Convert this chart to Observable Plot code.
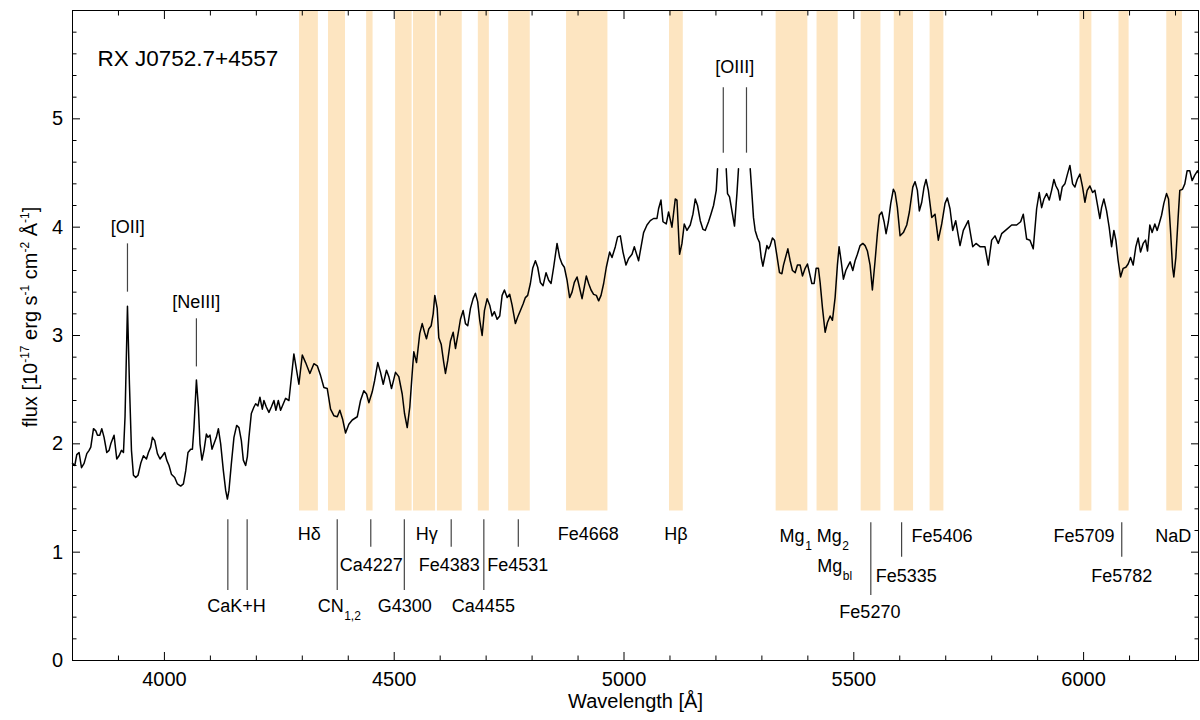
<!DOCTYPE html>
<html>
<head>
<meta charset="utf-8">
<script src="https://cdn.jsdelivr.net/npm/d3@7"></script>
<script src="https://cdn.jsdelivr.net/npm/@observablehq/plot@0.6"></script>
<style>
  html, body { margin: 0; padding: 0; background: #fff; overflow: hidden; }
</style>
</head>
<body>
<div id="chart"></div>
<script>
// ---- Spectrum: observed wavelength [Å], flux [1e-17 erg/s/cm²/Å]; null = off-scale ([OIII] peaks)
const spectrum = [
[3800.0,1.82],[3805.0,1.80],[3809.3,1.90],[3814.3,1.92],[3819.6,1.78],[3825.2,1.82],[3831.1,1.91],[3836.1,1.94],[3839.8,1.97],[3845.7,2.14],
[3850.7,2.12],[3854.3,2.08],[3859.3,2.08],[3863.7,2.14],[3868.7,2.06],[3874.6,1.92],[3879.6,1.94],[3883.3,2.00],[3890.4,2.08],[3896.3,1.86],
[3901.3,1.89],[3906.5,1.94],[3910.9,1.92],[3914.3,2.25],[3919.6,3.27],[3923.9,2.55],[3928.3,1.94],[3932.6,1.71],[3937.6,1.69],[3942.6,1.71],
[3948.5,1.82],[3954.3,1.89],[3960.9,1.86],[3965.2,1.92],[3970.2,1.97],[3973.9,2.06],[3978.9,2.03],[3984.8,1.91],[3990.4,1.86],[3995.7,1.89],
[4000.7,1.92],[4005.0,1.85],[4010.0,1.80],[4015.2,1.72],[4022.4,1.69],[4028.3,1.63],[4035.4,1.61],[4041.3,1.63],[4046.3,1.75],[4051.3,1.92],
[4057.2,1.95],[4060.9,1.95],[4064.3,2.15],[4069.6,2.59],[4073.9,2.34],[4077.4,2.00],[4081.7,1.85],[4086.1,1.94],[4091.3,2.09],[4094.8,2.06],
[4099.1,2.08],[4103.5,1.95],[4107.8,2.00],[4113.0,2.06],[4117.4,2.14],[4122.4,2.00],[4128.3,1.75],[4133.3,1.57],[4137.0,1.49],[4140.4,1.57],
[4145.7,1.82],[4151.3,2.06],[4157.2,2.17],[4162.2,2.15],[4167.4,2.03],[4171.7,1.85],[4176.7,1.80],[4180.4,1.88],[4183.9,2.06],[4189.1,2.28],
[4194.8,2.34],[4198.5,2.37],[4203.5,2.35],[4207.8,2.43],[4213.0,2.32],[4216.5,2.40],[4221.7,2.34],[4227.4,2.29],[4232.6,2.34],[4238.3,2.40],
[4242.6,2.31],[4247.8,2.40],[4252.8,2.31],[4263.7,2.42],[4270.9,2.40],[4281.7,2.83],[4292.6,2.55],[4300.0,2.82],[4307.2,2.75],[4316.5,2.65],
[4325.2,2.74],[4332.6,2.72],[4339.8,2.63],[4347.0,2.52],[4354.3,2.51],[4361.5,2.32],[4368.7,2.26],[4376.1,2.25],[4381.7,2.31],[4387.6,2.23],
[4394.1,2.10],[4401.3,2.18],[4408.7,2.22],[4419.6,2.25],[4426.7,2.40],[4433.9,2.49],[4439.8,2.46],[4444.8,2.38],[4452.2,2.48],[4457.2,2.58],
[4464.3,2.75],[4470.2,2.66],[4476.1,2.55],[4483.2,2.68],[4488.3,2.62],[4494.1,2.51],[4502.8,2.66],[4510.0,2.62],[4517.4,2.46],[4522.4,2.28],
[4528.3,2.15],[4533.9,2.34],[4539.1,2.65],[4542.6,2.85],[4548.5,2.75],[4555.6,3.02],[4560.9,3.11],[4565.9,3.03],[4570.2,2.97],[4575.2,3.06],
[4580.4,3.09],[4584.8,3.20],[4588.3,3.37],[4593.5,3.25],[4597.0,2.98],[4602.2,2.92],[4607.8,2.75],[4611.5,2.65],[4616.5,2.77],[4622.4,2.95],
[4628.3,3.03],[4633.3,2.88],[4639.1,3.02],[4644.1,3.15],[4650.0,3.23],[4655.0,3.11],[4660.0,3.09],[4665.9,3.25],[4671.7,3.34],[4676.7,3.39],
[4681.7,3.31],[4686.1,3.14],[4691.3,3.00],[4696.3,3.23],[4702.2,3.34],[4707.8,3.28],[4713.0,3.18],[4718.0,3.22],[4723.9,3.15],[4729.6,3.18],
[4734.8,3.37],[4739.8,3.42],[4745.7,3.35],[4751.3,3.38],[4756.5,3.28],[4763.7,3.11],[4768.7,3.17],[4774.6,3.23],[4780.4,3.29],[4785.4,3.35],
[4790.4,3.37],[4796.3,3.48],[4801.3,3.62],[4807.2,3.69],[4812.2,3.63],[4818.0,3.49],[4823.9,3.46],[4830.4,3.58],[4836.1,3.51],[4841.3,3.48],
[4846.9,3.63],[4854.3,3.85],[4860.0,3.72],[4865.2,3.66],[4870.2,3.63],[4876.1,3.51],[4881.7,3.35],[4886.9,3.40],[4891.9,3.49],[4897.8,3.54],
[4902.8,3.45],[4908.7,3.34],[4913.7,3.45],[4918.0,3.55],[4923.0,3.48],[4928.3,3.42],[4933.9,3.38],[4939.8,3.37],[4944.8,3.32],[4950.0,3.37],
[4955.7,3.48],[4961.5,3.63],[4968.7,3.77],[4973.9,3.72],[4981.1,3.82],[4986.1,3.91],[4992.0,3.92],[4997.8,3.77],[5004.3,3.65],[5010.0,3.71],
[5017.4,3.75],[5022.4,3.82],[5031.7,3.69],[5042.6,3.95],[5050.0,4.02],[5057.2,4.06],[5064.3,4.08],[5071.7,4.08],[5075.2,4.17],[5080.4,4.25],
[5084.8,4.05],[5091.9,4.03],[5097.0,4.14],[5104.3,4.00],[5111.5,4.26],[5115.2,4.25],[5120.9,3.75],[5126.1,3.85],[5131.1,4.03],[5137.0,3.97],
[5144.1,4.02],[5150.0,4.12],[5155.0,4.26],[5160.0,4.20],[5165.9,4.06],[5171.7,3.98],[5176.7,3.97],[5183.9,4.05],[5189.1,4.12],[5194.8,4.20],
[5200.7,4.34],[5203.5,4.54],[5212.0,null],[5222.4,4.54],[5225.2,4.31],[5229.6,4.28],[5234.8,4.15],[5240.4,4.01],[5245.7,4.31],[5249.1,4.54],
[5262.0,null],[5274.6,4.54],[5278.3,4.31],[5281.7,4.09],[5285.4,3.97],[5290.4,3.90],[5294.8,3.86],[5298.5,3.72],[5302.2,3.64],[5307.2,3.75],
[5310.9,3.83],[5314.3,3.80],[5318.0,3.83],[5323.0,3.90],[5327.4,3.88],[5332.6,3.74],[5338.3,3.58],[5343.5,3.57],[5347.0,3.65],[5356.5,3.80],
[5361.5,3.69],[5366.5,3.60],[5372.4,3.58],[5377.4,3.65],[5383.3,3.65],[5388.3,3.55],[5394.1,3.62],[5399.1,3.66],[5405.0,3.55],[5408.7,3.48],
[5413.7,3.48],[5418.0,3.62],[5423.0,3.62],[5426.7,3.49],[5431.7,3.26],[5437.6,3.03],[5442.6,3.12],[5448.5,3.18],[5453.5,3.14],[5459.3,3.35],
[5464.3,3.65],[5468.0,3.82],[5472.4,3.69],[5477.4,3.52],[5482.6,3.60],[5488.3,3.65],[5492.0,3.68],[5497.8,3.60],[5502.8,3.69],[5507.8,3.75],
[5513.7,3.83],[5519.6,3.85],[5524.6,3.83],[5529.6,3.78],[5535.4,3.65],[5540.4,3.42],[5546.3,3.69],[5551.3,3.94],[5555.6,4.11],[5560.9,4.14],
[5565.9,4.05],[5570.2,3.94],[5575.2,4.05],[5580.4,4.22],[5586.1,4.35],[5589.8,4.32],[5594.8,4.18],[5600.7,3.92],[5607.8,3.95],[5615.2,4.02],
[5620.9,4.14],[5628.3,4.37],[5633.3,4.42],[5638.3,4.34],[5642.6,4.15],[5647.8,4.23],[5652.8,4.37],[5657.2,4.44],[5662.2,4.34],[5669.6,4.09],
[5676.7,4.12],[5683.9,3.88],[5691.3,4.03],[5698.5,4.22],[5703.5,4.27],[5709.3,4.17],[5715.2,3.97],[5721.7,4.06],[5731.1,3.83],[5738.3,3.97],
[5749.1,4.06],[5758.7,3.82],[5765.9,3.85],[5774.6,3.82],[5785.4,3.82],[5792.6,3.65],[5800.0,3.88],[5807.2,3.92],[5814.3,3.85],[5821.7,3.94],
[5832.6,3.98],[5843.5,4.02],[5854.3,4.02],[5863.0,4.05],[5868.7,4.12],[5876.1,3.89],[5883.3,3.88],[5890.4,3.80],[5897.8,4.17],[5903.5,4.32],
[5908.7,4.18],[5913.7,4.26],[5919.6,4.31],[5925.2,4.25],[5930.4,4.34],[5935.4,4.44],[5939.8,4.38],[5944.8,4.34],[5948.5,4.25],[5953.5,4.37],
[5959.3,4.40],[5964.3,4.48],[5970.2,4.57],[5976.1,4.40],[5981.1,4.37],[5986.1,4.44],[5992.0,4.49],[5997.8,4.37],[6002.8,4.23],[6007.8,4.34],
[6013.7,4.38],[6019.6,4.32],[6024.6,4.34],[6029.6,4.22],[6035.4,4.08],[6039.1,4.18],[6044.1,4.26],[6050.0,4.15],[6055.6,4.00],[6060.9,3.82],
[6065.9,3.97],[6070.2,3.88],[6075.2,3.69],[6080.4,3.54],[6086.1,3.62],[6091.9,3.63],[6096.9,3.66],[6102.2,3.72],[6107.8,3.65],[6113.7,3.82],
[6118.7,3.90],[6123.9,3.77],[6129.6,3.85],[6134.8,3.88],[6139.1,3.78],[6144.1,4.02],[6149.1,3.95],[6155.0,4.03],[6160.0,3.97],[6164.3,4.03],
[6169.6,4.11],[6174.6,4.22],[6180.4,4.31],[6184.8,4.26],[6189.1,3.97],[6193.5,3.63],[6196.3,3.54],[6200.7,3.72],[6205.7,4.09],[6209.3,4.34],
[6215.2,4.35],[6220.2,4.40],[6225.2,4.52],[6231.1,4.52],[6236.1,4.43],[6241.9,4.48],[6247.8,4.52],[6250.0,4.50]
];

// ---- Lick index central bandpasses in the observed frame [Å]
const bandLo = [4294, 4357, 4440, 4503, 4542, 4594, 4683, 4749, 4875, 5099, 5331, 5420, 5516, 5588, 5666, 5992, 6077, 6181];
const bandHi = [4335, 4394, 4454, 4539, 4590, 4648, 4707, 4796, 4965, 5129, 5400, 5466, 5559, 5630, 5696, 6018, 6099, 6215];

// ---- Feature marker wavelengths and their stalk style
const markerWave = [4138, 4180, 4376, 4449, 4522, 4624, 4695, 4770, 5537, 5604, 6083];
const markerKind = ["long", "long", "long", "short", "long", "short", "long", "short", "longR", "shortR", "shortR"];

// ---- Index labels (plain text) and where they sit
const indexNames = ["Hδ", "Hγ", "Fe4668", "Hβ", "Fe5406", "Fe5709", "NaD",
                    "Ca4227", "Fe4383", "Fe4531", "Fe5335", "Fe5782",
                    "CaK+H", "G4300", "Ca4455", "Fe5270"];
const indexWave  = [4315, 4571, 4922, 5113, 5692, 6001, 6195,
                    4450, 4620, 4769, 5614, 6083,
                    4157, 4523, 4694, 5535];
const indexRow   = ["r1", "r1", "r1", "r1", "r1R", "r1R", "r1R",
                    "r2", "r2", "r2", "r2R", "r2R",
                    "r3", "r3", "r3", "r3R"];

// ---- Index labels with a subscript
const subMain = ["CN", "Mg", "Mg", "Mg"];
const subText = ["1,2", "1", "2", "bl"];
const subWave = [4390, 5393, 5474, 5475];
const subRow  = ["r3", "r1R", "r1R", "r2M"];

// ---- Emission lines
const emisNames = ["[OII]", "[NeIII]", "[OIII]"];
const emisLabelWave = [3920, 4069, 5241];
const emisLineWave = [3919.6, 4069.6, 5216, 5266.5];
const emisLineOf = [0, 1, 2, 2];

// ---- Axis ticks
const xMajor = [4000, 4500, 5000, 5500, 6000];
const xMinor = [3900, 4100, 4200, 4300, 4400, 4600, 4700, 4800, 4900, 5100, 5200, 5300, 5400, 5600, 5700, 5800, 5900, 6100, 6200];
const yMajor = [0, 1, 2, 3, 4, 5];
const yMinor = [0.2, 0.4, 0.6, 0.8, 1.2, 1.4, 1.6, 1.8, 2.2, 2.4, 2.6, 2.8, 3.2, 3.4, 3.6, 3.8, 4.2, 4.4, 4.6, 4.8, 5.2, 5.4, 5.6, 5.8];

// ---- Layout (flux units on the y scale)
const BAND_FLOOR = 1.38;
const ROW_Y = {r1: 1.163, r1R: 1.145, r2: 0.877, r2M: 0.868, r2R: 0.775, r3: 0.503, r3R: 0.443};
const STALK = {long: [1.30, 0.646], short: [1.30, 1.046], longR: [1.271, 0.60], shortR: [1.271, 0.954]};
const EMIS_LABEL_Y = [4.0, 3.31, 5.477];
const EMIS_STALK = [[3.846, 3.40], [3.154, 2.71], [5.287, 4.683]];

const FONT = "'Liberation Sans', Arial, Helvetica, sans-serif";
const BAND_FILL = "#fde5c1";
const STALK_COLOR = "#444";

// ---- Tables for the marks
const bands = bandLo.map((lo, i) => ({lo, hi: bandHi[i]}));
const stalks = markerWave.map((w, i) => ({w, y1: STALK[markerKind[i]][0], y2: STALK[markerKind[i]][1]}));
const indexLabels = indexNames.map((name, i) => ({name, w: indexWave[i], y: ROW_Y[indexRow[i]]}));
const subLabels = subMain.map((main, i) => ({main, sub: subText[i], w: subWave[i], y: ROW_Y[subRow[i]]}));
const emisLabels = emisNames.map((name, i) => ({name, w: emisLabelWave[i], y: EMIS_LABEL_Y[i]}));
const emisStalks = emisLineWave.map((w, i) => ({w, y1: EMIS_STALK[emisLineOf[i]][0], y2: EMIS_STALK[emisLineOf[i]][1]}));

const noLabel = () => "";

const plot = Plot.plot({
  width: 1200,
  height: 720,
  marginTop: 10,
  marginRight: 2,
  marginBottom: 60,
  marginLeft: 72,
  x: {domain: [3800, 6250]},
  y: {domain: [0, 6]},
  style: {fontFamily: FONT, fontSize: "20px", color: "#000", background: "#fff"},
  marks: [
    Plot.rect(bands, {x1: "lo", x2: "hi", y1: BAND_FLOOR, y2: 6, fill: BAND_FILL}),
    Plot.line(spectrum, {x: d => d[0], y: d => d[1], stroke: "#000", strokeWidth: 1.5, strokeLinejoin: "round"}),

    Plot.ruleX(stalks, {x: "w", y1: "y1", y2: "y2", stroke: STALK_COLOR, strokeWidth: 1.2}),
    Plot.ruleX(emisStalks, {x: "w", y1: "y1", y2: "y2", stroke: STALK_COLOR, strokeWidth: 1.2}),

    Plot.text(indexLabels, {x: "w", y: "y", text: "name", fontSize: 18, fill: "#000"}),
    Plot.text(subLabels, {x: "w", y: "y", text: "main", textAnchor: "end", fontSize: 18, fill: "#000"}),
    Plot.text(subLabels, {x: "w", y: "y", text: "sub", textAnchor: "start", fontSize: 12, dx: 0.5, dy: 10, fill: "#000"}),
    Plot.text(emisLabels, {x: "w", y: "y", text: "name", fontSize: 18, fill: "#000"}),

    Plot.text(["RX J0752.7+4557"], {text: d => d, frameAnchor: "top-left", textAnchor: "start", lineAnchor: "bottom", dx: 25, dy: 55, fontSize: 22.5, fill: "#000"}),
    Plot.text(["Wavelength [Å]"], {text: d => d, frameAnchor: "bottom", lineAnchor: "bottom", dy: 47, fontSize: 20, fill: "#000"}),

    // inward-pointing ticks on all four sides
    Plot.axisX({anchor: "bottom", ticks: xMajor, tickSize: -8, tickPadding: 19.7, tickFormat: d => String(d), fontSize: 20, label: null}),
    Plot.axisX({anchor: "bottom", ticks: xMinor, tickSize: -4.5, tickFormat: noLabel, label: null}),
    Plot.axisX({anchor: "top", ticks: xMajor, tickSize: -8, tickFormat: noLabel, label: null}),
    Plot.axisX({anchor: "top", ticks: xMinor, tickSize: -4.5, tickFormat: noLabel, label: null}),
    Plot.axisY({anchor: "left", ticks: yMajor, tickSize: -8, tickPadding: 17.4, tickFormat: d => String(d), fontSize: 20, label: null}),
    Plot.axisY({anchor: "left", ticks: yMinor, tickSize: -4.5, tickFormat: noLabel, label: null}),
    Plot.axisY({anchor: "right", ticks: yMajor, tickSize: -8, tickFormat: noLabel, label: null}),
    Plot.axisY({anchor: "right", ticks: yMinor, tickSize: -4.5, tickFormat: noLabel, label: null}),

    Plot.frame({stroke: "#000", strokeWidth: 1})
  ]
});

// y-axis title with superscripted exponents
const ySpec = plot.scale("y");
const yMid = (ySpec.range[0] + ySpec.range[1]) / 2 - 18;
const yTitle = d3.select(plot).append("text")
  .attr("transform", `translate(37.3,${yMid}) rotate(-90)`)
  .attr("text-anchor", "middle")
  .attr("fill", "#000")
  .style("font-family", FONT)
  .style("font-size", "20px");
const yTitleParts = [["flux [10", false], ["-17", true], [" erg s", false], ["-1", true], [" cm", false], ["-2", true], [" Å", false], ["-1", true], ["]", false]];
let raised = false;
for (const [str, sup] of yTitleParts) {
  const t = yTitle.append("tspan").text(str);
  if (sup) { t.attr("dy", raised ? 0 : -8).style("font-size", "12px"); raised = true; }
  else { t.attr("dy", raised ? 8 : 0); raised = false; }
}

document.getElementById("chart").appendChild(plot);
</script>
</body>
</html>
